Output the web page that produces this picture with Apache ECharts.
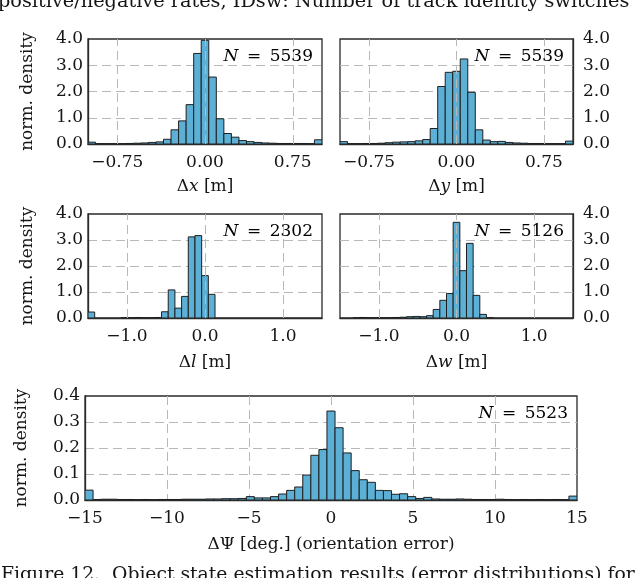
<!DOCTYPE html>
<html><head><meta charset="utf-8">
<script src="https://cdn.jsdelivr.net/npm/echarts@6/dist/echarts.min.js"></script>
<style>html,body{margin:0;padding:0;background:#fff;overflow:hidden}#c{width:640px;height:578px}</style>
</head><body><div id="c"></div>
<script>
// ---------------- data ----------------
// normalised densities per histogram bin, left to right
const dxDensity = [0.07,0.01,0.01,0.01,0.01,0.02,0.03,0.04,0.06,0.08,0.18,0.54,0.88,1.50,3.45,3.95,2.55,0.96,0.40,0.26,0.13,0.09,0.06,0.04,0.03,0.02,0.02,0.02,0.02,0.01,0.16];
const dyDensity = [0.09,0.01,0.01,0.02,0.02,0.03,0.05,0.07,0.08,0.09,0.12,0.17,0.59,2.19,2.73,2.77,3.24,1.97,0.54,0.15,0.09,0.10,0.06,0.04,0.03,0.02,0.02,0.01,0.01,0.01,0.11];
const dlDensity = [0.23,0,0,0,0,0.01,0.01,0.02,0.01,0.01,0.02,0.24,1.08,0.38,0.83,3.12,3.17,1.63,0.91,0,0,0,0,0,0,0,0,0,0,0,0,0,0,0,0];
const dwDensity = [0,0,0.01,0.02,0.01,0.01,0.01,0.01,0.02,0.03,0.05,0.06,0.05,0.09,0.33,0.68,0.94,3.68,1.82,2.87,0.87,0.14,0.01,0,0,0,0,0,0,0,0,0,0,0,0];
const dpsiDensity = [0.038,0.002,0.003,0.003,0.002,0.002,0.001,0.002,0.001,0.002,0.002,0.002,0.003,0.003,0.003,0.004,0.004,0.005,0.005,0.006,
  0.013,0.008,0.008,0.013,0.023,0.037,0.050,0.096,0.172,0.194,0.342,0.278,0.181,0.113,0.078,0.068,0.037,0.036,0.022,0.024,
  0.013,0.006,0.010,0.004,0.003,0.003,0.004,0.003,0.002,0.002,0.002,0.003,0.002,0.001,0.002,0.001,0.002,0.001,0.002,0.001,0.015];
// histogram ranges (bins evenly cover the range)
const dxRange = [-1, 1];
const dyRange = [-1, 1];
const dlRange = [-1.5, 1.5];
const dwRange = [-1.5, 1.5];
const dpsiRange = [-15, 15];
// sample counts
const sampleCounts = [5539, 5539, 2302, 5126, 5523];
// tick values
const xTicksXY = [-0.75, 0, 0.75];
const xTicksLW = [-1, 0, 1];
// axis titles (label pieces: upright Δ, symbol, rest)
const xSymbols = ['x', 'y', 'l', 'w', 'Ψ'];
const xSymbolItalic = [true, true, true, true, false];
const xUnits = [' [m]', ' [m]', ' [m]', ' [m]', ' [deg.] (orientation error)'];
const yTitle = 'norm. density';
const topText = 'positive/negative rates, IDsw: Number of track identity switches';
const captionText = 'Figure 12.  Object state estimation results (error distributions) for';

// ---------------- style ----------------
const FONT = 'DejaVu Serif';
const FS = 17;
const TXT = '#151515';
const FILL = '#5cafd5';
const EDGE = '#1f1f1f';
const GRID = '#b8b8b8';
const DASH = [9, 5];
const FRAME = '#2a2a2a';
const MINUS = '\u2212';

function toBins(dens, range) {
  const n = dens.length, w = (range[1] - range[0]) / n;
  return dens.map((h, i) => [range[0] + i * w, range[0] + (i + 1) * w, h]);
}
function fmt(v, d) {
  const s = Math.abs(v).toFixed(d);
  return (v < -1e-9 ? MINUS : '') + s;
}
function renderBar(params, api) {
  const h = api.value(2);
  if (!(h > 0)) return null;
  const p0 = api.coord([api.value(0), 0]);
  const p1 = api.coord([api.value(1), h]);
  return {
    type: 'rect',
    shape: { x: p0[0], y: p1[1], width: p1[0] - p0[0], height: p0[1] - p1[1] },
    style: { fill: FILL, stroke: EDGE, lineWidth: 1 }
  };
}

const panels = [
  { dens: dxDensity, range: dxRange, ticks: xTicksXY, dec: 2, grid: { left: 88, top: 39, width: 234, height: 105 }, yRight: false, gap: 34 },
  { dens: dyDensity, range: dyRange, ticks: xTicksXY, dec: 2, grid: { left: 340, top: 39, width: 233, height: 105 }, yRight: true, gap: 34 },
  { dens: dlDensity, range: dlRange, ticks: xTicksLW, dec: 1, grid: { left: 88, top: 214, width: 234, height: 104 }, yRight: false, gap: 36 },
  { dens: dwDensity, range: dwRange, ticks: xTicksLW, dec: 1, grid: { left: 340, top: 214, width: 233, height: 104 }, yRight: true, gap: 36 },
  { dens: dpsiDensity, range: dpsiRange, ticks: null, dec: 0, grid: { left: 85, top: 396, width: 492, height: 104 }, yRight: false, gap: 36, psi: true }
];

const rich = {
  r: { fontFamily: FONT, fontSize: FS, color: TXT },
  i: { fontFamily: FONT, fontSize: FS, color: TXT, fontStyle: 'italic' }
};

const grids = [], xAxes = [], yAxes = [], series = [], graphics = [];
panels.forEach((p, k) => {
  grids.push(Object.assign({ show: true, borderColor: FRAME, borderWidth: 1.3, backgroundColor: 'transparent', containLabel: false }, p.grid));
  const mkSplit = (show) => ({ show: show, showMinLine: false, showMaxLine: false, lineStyle: { color: GRID, type: DASH, width: 1 } });
  const xa = {
    type: 'value', gridIndex: k, min: p.range[0], max: p.range[1],
    axisLine: { show: true, onZero: false, lineStyle: { color: FRAME, width: 1.3 } },
    axisTick: { show: false },
    axisLabel: { fontFamily: FONT, fontSize: FS, color: TXT, margin: 10, formatter: v => fmt(v, p.dec), hideOverlap: false, showMinLabel: true, showMaxLabel: true },
    splitLine: mkSplit(!!p.psi),
    name: '{r|Δ}{' + (xSymbolItalic[k] ? 'i' : 'r') + '|' + xSymbols[k] + '}{r|' + xUnits[k] + '}',
    nameLocation: 'middle', nameGap: p.gap,
    nameTextStyle: { rich: rich }
  };
  if (p.psi) {
    xa.interval = 5;
  } else {
    xa.axisLabel.customValues = p.ticks;
    xa.axisTick.customValues = p.ticks;
  }
  xAxes.push(xa);
  const ya = {
    type: 'value', gridIndex: k, min: 0, max: p.psi ? 0.4 : 4, interval: p.psi ? 0.1 : 1,
    position: p.yRight ? 'right' : 'left',
    axisLine: { show: true, onZero: false, lineStyle: { color: FRAME, width: 1.3 } },
    axisTick: { show: false },
    axisLabel: { fontFamily: FONT, fontSize: FS, color: TXT, margin: p.yRight ? 10 : 5, formatter: v => v.toFixed(1) },
    splitLine: mkSplit(true)
  };
  if (!p.yRight) {
    ya.name = yTitle;
    ya.nameLocation = 'middle';
    ya.nameGap = p.psi ? 55 : 52;
    ya.nameTextStyle = { fontFamily: FONT, fontSize: FS, color: TXT };
  }
  yAxes.push(ya);
  if (!p.psi) {
    // vertical dashed grid lines at the tick values
    series.push({
      type: 'line', xAxisIndex: k, yAxisIndex: k, data: [], z: 1, silent: true,
      markLine: {
        silent: true, symbol: 'none', animation: false,
        label: { show: false },
        lineStyle: { color: GRID, type: DASH, width: 1 },
        data: p.ticks.map(v => ({ xAxis: v }))
      }
    });
  }
  series.push({
    type: 'custom', xAxisIndex: k, yAxisIndex: k, renderItem: renderBar,
    data: toBins(p.dens, p.range), silent: true, z: 3, clip: true
  });
  graphics.push({
    type: 'text', z: 10,
    x: p.grid.left + p.grid.width - 9, y: p.grid.top + 18,
    style: {
      text: '{i|N}{r|\u2002=\u2002' + sampleCounts[k] + '}', rich: rich,
      align: 'right', verticalAlign: 'middle'
    }
  });
});

graphics.push({ type: 'text', x: -2, y: -8, style: { text: topText, fontFamily: FONT, fontSize: 19.3, fill: TXT, align: 'left', verticalAlign: 'top' } });
graphics.push({ type: 'text', x: 1, y: 566, style: { text: captionText, fontFamily: FONT, fontSize: 18.8, fill: TXT, align: 'left', verticalAlign: 'top' } });

const chart = echarts.init(document.getElementById('c'), null, { renderer: 'canvas' });
chart.setOption({
  animation: false,
  backgroundColor: '#ffffff',
  grid: grids, xAxis: xAxes, yAxis: yAxes, series: series, graphic: graphics
});
</script></body></html>
